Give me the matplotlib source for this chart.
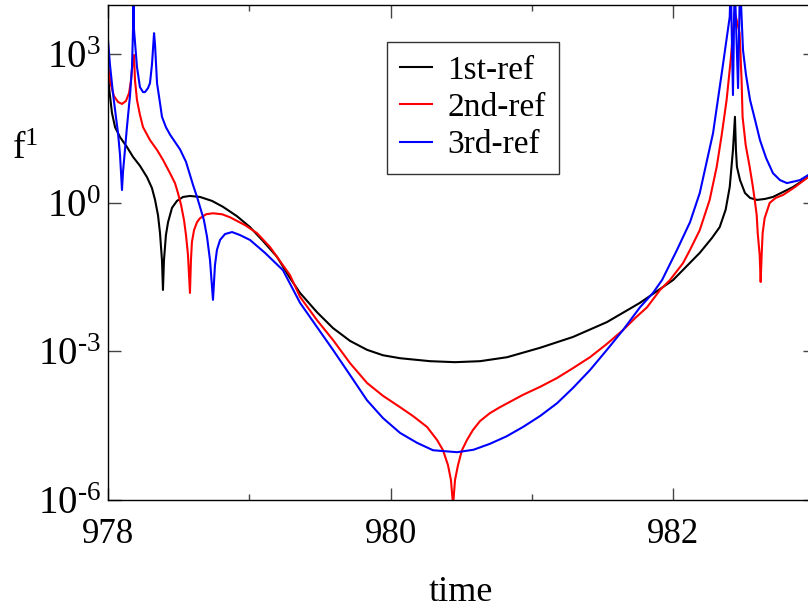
import matplotlib
matplotlib.use("Agg")
import matplotlib.pyplot as plt
import numpy as np
from matplotlib.ticker import FixedLocator, FuncFormatter, NullLocator

plt.rcParams['font.family'] = ['Liberation Serif', 'DejaVu Serif']
plt.rcParams['mathtext.default'] = 'regular'
plt.rcParams['mathtext.fontset'] = 'custom'
plt.rcParams['mathtext.rm'] = 'Liberation Serif'
plt.rcParams['axes.unicode_minus'] = False

# values: time offset from 978 and log10(f^1)
t_1st = [0.000, 0.007, 0.028, 0.050, 0.085, 0.134, 0.177, 0.226, 0.276, 0.311,
         0.333, 0.354, 0.368, 0.382, 0.389, 0.396, 0.410, 0.425, 0.453, 0.488,
         0.531, 0.580, 0.651, 0.736, 0.814, 0.913, 1.005, 1.097, 1.196, 1.288,
         1.359, 1.479, 1.592, 1.713, 1.833, 1.946, 2.067, 2.279, 2.456, 2.633,
         2.824, 3.057, 3.291, 3.531, 3.765, 3.999, 4.188, 4.274, 4.329, 4.371,
         4.400, 4.423, 4.437, 4.444, 4.451, 4.473, 4.508, 4.544, 4.593, 4.650,
         4.706, 4.777, 4.848, 4.954, 5.000]
lg_1st = [2.79, 2.34, 1.82, 1.53, 1.33, 1.13, 0.93, 0.75, 0.52, 0.30,
          0.06, -0.25, -0.61, -1.16, -1.76, -1.16, -0.65, -0.39, -0.10, 0.04,
          0.12, 0.14, 0.12, 0.04, -0.08, -0.27, -0.49, -0.77, -1.09, -1.52,
          -1.82, -2.21, -2.53, -2.79, -2.97, -3.08, -3.14, -3.20, -3.22, -3.20,
          -3.12, -2.93, -2.71, -2.41, -2.02, -1.56, -1.01, -0.71, -0.49, -0.14,
          0.32, 1.07, 1.74, 1.07, 0.73, 0.46, 0.20, 0.10, 0.06, 0.08,
          0.12, 0.22, 0.32, 0.52, 0.62]

t_2nd = [0.000, 0.021, 0.042, 0.071, 0.099, 0.127, 0.149, 0.163, 0.177, 0.184,
         0.191, 0.205, 0.226, 0.248, 0.297, 0.347, 0.389, 0.439, 0.474, 0.495,
         0.517, 0.538, 0.552, 0.566, 0.580, 0.587, 0.594, 0.609, 0.630, 0.651,
         0.694, 0.743, 0.807, 0.863, 0.970, 1.054, 1.146, 1.238, 1.288, 1.359,
         1.479, 1.592, 1.713, 1.833, 1.946, 2.067, 2.159, 2.258, 2.328, 2.371,
         2.406, 2.427, 2.442, 2.456, 2.477, 2.505, 2.541, 2.583, 2.633, 2.703,
         2.774, 2.937, 3.057, 3.178, 3.291, 3.411, 3.531, 3.645, 3.730, 3.815,
         3.907, 3.977, 4.069, 4.119, 4.188, 4.258, 4.308, 4.343, 4.378, 4.407,
         4.421, 4.435, 4.449, 4.470, 4.484, 4.491, 4.513, 4.541, 4.562, 4.577,
         4.591, 4.598, 4.612, 4.619, 4.626, 4.633, 4.647, 4.683, 4.725, 4.777,
         4.862, 4.954, 5.000]
lg_2nd = [2.75, 2.38, 2.16, 2.04, 2.00, 2.06, 2.22, 2.48, 2.93, 2.99,
          2.48, 2.08, 1.78, 1.53, 1.27, 1.07, 0.87, 0.60, 0.40, 0.20,
          -0.04, -0.35, -0.65, -1.05, -1.82, -1.16, -0.79, -0.55, -0.39, -0.31,
          -0.23, -0.21, -0.23, -0.29, -0.45, -0.61, -0.89, -1.26, -1.46, -1.90,
          -2.37, -2.77, -3.24, -3.64, -3.90, -4.13, -4.31, -4.53, -4.79, -5.00,
          -5.30, -5.60, -6.11, -5.60, -5.30, -5.00, -4.79, -4.59, -4.41, -4.25,
          -4.13, -3.88, -3.72, -3.54, -3.34, -3.12, -2.85, -2.57, -2.33, -2.11,
          -1.76, -1.56, -1.22, -0.95, -0.55, 0.06, 0.73, 1.37, 2.08, 2.89,
          3.39, 3.84, 3.70, 3.43, 2.48, 1.74, 1.17, 0.73, 0.36, 0.06,
          -0.25, -0.61, -1.05, -1.60, -1.05, -0.61, -0.31, 0.00, 0.10, 0.16,
          0.32, 0.52, 0.62]

t_3rd = [0.000, 0.014, 0.035, 0.057, 0.071, 0.085, 0.092, 0.099, 0.106, 0.120,
         0.134, 0.156, 0.170, 0.177, 0.180, 0.184, 0.205, 0.226, 0.248, 0.262,
         0.283, 0.297, 0.311, 0.326, 0.333, 0.347, 0.368, 0.382, 0.410, 0.439,
         0.510, 0.552, 0.602, 0.630, 0.651, 0.679, 0.701, 0.722, 0.743, 0.757,
         0.771, 0.793, 0.828, 0.878, 0.934, 1.005, 1.111, 1.238, 1.359, 1.479,
         1.592, 1.713, 1.833, 1.946, 2.067, 2.187, 2.300, 2.470, 2.587, 2.703,
         2.820, 2.937, 3.057, 3.178, 3.291, 3.411, 3.531, 3.645, 3.765, 3.857,
         3.921, 4.027, 4.119, 4.188, 4.282, 4.350, 4.400, 4.407, 4.423, 4.435,
         4.459, 4.473, 4.494, 4.515, 4.544, 4.579, 4.614, 4.657, 4.706, 4.756,
         4.805, 4.897, 4.954, 5.000]
lg_3rd = [3.29, 2.79, 2.22, 1.72, 1.41, 0.97, 0.62, 0.26, 0.62, 1.07,
          1.53, 2.18, 2.75, 3.50, 4.50, 3.50, 2.75, 2.34, 2.24, 2.24,
          2.32, 2.42, 2.79, 3.43, 3.19, 2.42, 2.02, 1.74, 1.53, 1.38,
          1.08, 0.83, 0.36, 0.12, -0.08, -0.35, -0.69, -1.16, -1.96, -1.26,
          -0.95, -0.75, -0.63, -0.59, -0.65, -0.75, -1.01, -1.36, -2.02, -2.51,
          -2.97, -3.48, -3.99, -4.35, -4.65, -4.85, -5.00, -5.04, -4.99, -4.87,
          -4.72, -4.53, -4.31, -4.05, -3.74, -3.38, -2.97, -2.57, -2.11, -1.82,
          -1.56, -0.95, -0.39, 0.20, 1.41, 2.75, 3.76, 4.50, 2.18, 4.50,
          2.32, 4.50, 3.09, 2.59, 2.08, 1.68, 1.27, 0.91, 0.60, 0.46,
          0.40, 0.46, 0.56, 0.66]

t_start = 978
labels = ['1st-ref', '2nd-ref', '3rd-ref']
colors = ['black', 'red', 'blue']
x_ticks = [978, 980, 982]
x_minor = [979, 981, 983]
y_ticks = [1e-6, 1e-3, 1e0, 1e3]


def pow_label(v, pos):
    e = int(round(np.log10(v)))
    sign = r'\text{-}' if e < 0 else ''
    return r'$\mathregular{10^{%s%d}}$' % (sign, abs(e))


fig = plt.figure(figsize=(8.08, 6.12), dpi=100)
ax = fig.add_axes([108 / 808, 1 - 499.7 / 612, 706.5 / 808, 494.7 / 612])

series = [(t_1st, lg_1st), (t_2nd, lg_2nd), (t_3rd, lg_3rd)]
for (t, lg), lab, c in zip(series, labels, colors):
    ax.plot(t_start + np.array(t), 10.0 ** np.array(lg), color=c, lw=1.5, label=lab)

ax.set_yscale('log')
ax.set_xlim(978, 983)
ax.set_ylim(1e-6, 1e4)

ax.xaxis.set_major_locator(FixedLocator(x_ticks))
ax.xaxis.set_minor_locator(FixedLocator(x_minor))
ax.yaxis.set_major_locator(FixedLocator(y_ticks))
ax.yaxis.set_minor_locator(NullLocator())
ax.yaxis.set_major_formatter(FuncFormatter(pow_label))

ax.tick_params(which='both', direction='in', top=True, right=True,
               color='#444444', width=1.0)
ax.tick_params(which='major', length=9)
ax.tick_params(which='minor', length=4.5)
ax.tick_params(axis='x', pad=13, labelsize=25)
ax.tick_params(axis='y', pad=5, labelsize=28)
for s in ax.spines.values():
    s.set_linewidth(1.0)

ax.set_xlabel('time', fontsize=26, labelpad=18)
fig.text(25 / 808, 1 - 150 / 612, r'$\mathregular{f^{1}}$', fontsize=27,
         ha='center', va='center')

leg = ax.legend(loc='upper left', bbox_to_anchor=(0.395, 0.925), fontsize=24,
                frameon=True, fancybox=False, borderaxespad=0, borderpad=0.4,
                labelspacing=0.2, handlelength=0.95, handletextpad=0.45)
leg.get_frame().set_edgecolor('black')
leg.get_frame().set_linewidth(1.0)

fig.savefig('out.png', dpi=100)
